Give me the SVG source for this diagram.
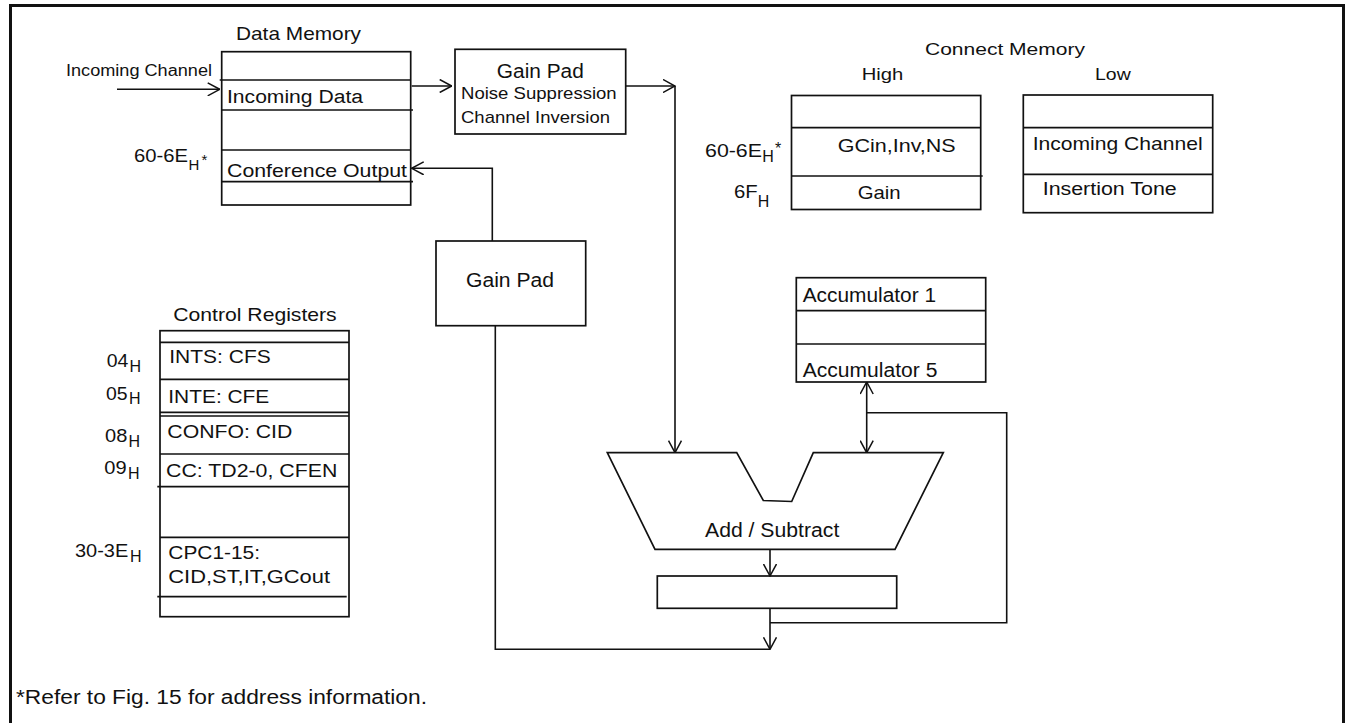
<svg xmlns="http://www.w3.org/2000/svg" width="1348" height="723" viewBox="0 0 1348 723">
<style>
  .box{fill:none;stroke:#111;stroke-width:1.7}
  .ln{fill:none;stroke:#111;stroke-width:1.7}
  .c{fill:none;stroke:#111;stroke-width:1.6}
  text{font-family:"Liberation Sans",Arial,sans-serif;fill:#111}
  .f20{font-size:20px}
  .f19{font-size:19px}
  .f18{font-size:18px}
  .f17{font-size:17px}
  .f16{font-size:16px}
  .f15{font-size:15px}
</style>
<defs>
  <marker id="ah" viewBox="0 0 13 14" refX="12.5" refY="7" markerWidth="13" markerHeight="14" markerUnits="userSpaceOnUse" orient="auto-start-reverse">
    <path d="M0.5,0.5 L12.5,7 L0.5,13.5" fill="none" stroke="#111" stroke-width="1.5"/>
  </marker>
</defs>
<rect width="1348" height="723" fill="#fff"/>
<path d="M10.5,723 V5.5 H1343.5 V723" fill="none" stroke="#111" stroke-width="3"/>

<g id="data-memory">
  <text class="f19" x="236" y="40" textLength="125" lengthAdjust="spacingAndGlyphs">Data Memory</text>
  <rect class="box" x="221.7" y="51.7" width="189" height="153.3"/>
  <line class="ln" x1="219.7" y1="80" x2="410.7" y2="80"/>
  <line class="ln" x1="221.7" y1="110" x2="413" y2="110"/>
  <line class="ln" x1="221.7" y1="150" x2="410.7" y2="150"/>
  <line class="ln" x1="221.7" y1="181.7" x2="413" y2="181.7"/>
  <text class="f18" x="227" y="102.5" textLength="136" lengthAdjust="spacingAndGlyphs">Incoming Data</text>
  <text class="f19" x="227" y="177" textLength="180" lengthAdjust="spacingAndGlyphs">Conference Output</text>
  <text class="f18" x="134" y="162" textLength="54" lengthAdjust="spacingAndGlyphs">60-6E</text>
  <text class="f15" x="188.5" y="169.5">H</text>
  <text class="f15" x="201.5" y="165">*</text>
</g>

<g id="incoming-channel-label">
  <text class="f16" x="66" y="76" textLength="146" lengthAdjust="spacingAndGlyphs">Incoming Channel</text>
</g>

<g id="gain-pad-top">
  <rect class="box" x="455" y="49.3" width="170.7" height="84.7"/>
  <text class="f20" x="540.3" y="78.3" text-anchor="middle" textLength="87" lengthAdjust="spacingAndGlyphs">Gain Pad</text>
  <text class="f17" x="461" y="99.3" textLength="155.7" lengthAdjust="spacingAndGlyphs">Noise Suppression</text>
  <text class="f17" x="461" y="122.7" textLength="149" lengthAdjust="spacingAndGlyphs">Channel Inversion</text>
</g>

<g id="connect-memory">
  <text class="f17" x="925" y="55" textLength="160" lengthAdjust="spacingAndGlyphs">Connect Memory</text>
  <text class="f17" x="861.7" y="80" textLength="41.6" lengthAdjust="spacingAndGlyphs">High</text>
  <text class="f17" x="1095" y="80" textLength="35.7" lengthAdjust="spacingAndGlyphs">Low</text>
</g>

<g id="cm-high">
  <rect class="box" x="791.5" y="95.5" width="189.2" height="114"/>
  <line class="ln" x1="791.5" y1="127.7" x2="980.7" y2="127.7"/>
  <line class="ln" x1="791.5" y1="176" x2="982.7" y2="176"/>
  <text class="f19" x="837.7" y="151.7" textLength="118" lengthAdjust="spacingAndGlyphs">GCin,Inv,NS</text>
  <text class="f19" x="857.7" y="199" textLength="43" lengthAdjust="spacingAndGlyphs">Gain</text>
  <text class="f19" x="705" y="156.7" textLength="57" lengthAdjust="spacingAndGlyphs">60-6E</text>
  <text class="f16" x="762.3" y="161.7">H</text>
  <text class="f16" x="775" y="154">*</text>
  <text class="f19" x="734" y="197.7" textLength="23.7" lengthAdjust="spacingAndGlyphs">6F</text>
  <text class="f16" x="757.7" y="206.7">H</text>
</g>

<g id="cm-low">
  <rect class="box" x="1023.3" y="95" width="189.4" height="117.7"/>
  <line class="ln" x1="1023.3" y1="127.7" x2="1212.7" y2="127.7"/>
  <line class="ln" x1="1023.3" y1="174.3" x2="1212.7" y2="174.3"/>
  <text class="f19" x="1032.7" y="149.5" textLength="170" lengthAdjust="spacingAndGlyphs">Incoming Channel</text>
  <text class="f18" x="1042.7" y="195" textLength="134" lengthAdjust="spacingAndGlyphs">Insertion Tone</text>
</g>

<g id="gain-pad-lower">
  <rect class="box" x="436" y="241" width="149.7" height="84.7"/>
  <text class="f20" x="510" y="286.7" text-anchor="middle" textLength="88" lengthAdjust="spacingAndGlyphs">Gain Pad</text>
</g>

<g id="control-registers">
  <text class="f19" x="173.3" y="320.7" textLength="163.4" lengthAdjust="spacingAndGlyphs">Control Registers</text>
  <rect class="box" x="160" y="330.7" width="189" height="286"/>
  <line class="ln" x1="160" y1="342.3" x2="349" y2="342.3"/>
  <line class="ln" x1="160" y1="379.3" x2="349" y2="379.3"/>
  <line class="ln" x1="160" y1="412.3" x2="349" y2="412.3"/>
  <line class="ln" x1="160" y1="416" x2="349" y2="416"/>
  <line class="ln" x1="160" y1="454" x2="349" y2="454"/>
  <line class="ln" x1="157.3" y1="486.7" x2="349" y2="486.7"/>
  <line class="ln" x1="160" y1="537.3" x2="349" y2="537.3"/>
  <line class="ln" x1="157.3" y1="596.7" x2="346.7" y2="596.7"/>
  <text class="f19" x="169.3" y="363.3" textLength="101.4" lengthAdjust="spacingAndGlyphs">INTS: CFS</text>
  <text class="f19" x="168.3" y="403.3" textLength="101" lengthAdjust="spacingAndGlyphs">INTE: CFE</text>
  <text class="f19" x="167.3" y="437.7" textLength="125" lengthAdjust="spacingAndGlyphs">CONFO: CID</text>
  <text class="f19" x="166" y="476.7" textLength="171.3" lengthAdjust="spacingAndGlyphs">CC: TD2-0, CFEN</text>
  <text class="f19" x="168.3" y="559.3" textLength="91.7" lengthAdjust="spacingAndGlyphs">CPC1-15:</text>
  <text class="f19" x="168.3" y="583.3" textLength="161.7" lengthAdjust="spacingAndGlyphs">CID,ST,IT,GCout</text>
  <text class="f19" x="106.7" y="367.3" textLength="21.6" lengthAdjust="spacingAndGlyphs">04</text>
  <text class="f16" x="129.5" y="372.3">H</text>
  <text class="f19" x="106" y="400" textLength="21.6" lengthAdjust="spacingAndGlyphs">05</text>
  <text class="f16" x="129" y="404.3">H</text>
  <text class="f19" x="105" y="441.7" textLength="22.3" lengthAdjust="spacingAndGlyphs">08</text>
  <text class="f16" x="128.5" y="446.7">H</text>
  <text class="f19" x="104.3" y="474" textLength="22.3" lengthAdjust="spacingAndGlyphs">09</text>
  <text class="f16" x="128" y="479">H</text>
  <text class="f19" x="75" y="556.7" textLength="53.3" lengthAdjust="spacingAndGlyphs">30-3E</text>
  <text class="f16" x="130" y="561.7">H</text>
</g>

<g id="accumulators">
  <rect class="box" x="796.3" y="277.7" width="189.4" height="104.3"/>
  <line class="ln" x1="796.3" y1="310.7" x2="985.7" y2="310.7"/>
  <line class="ln" x1="796.3" y1="344" x2="985.7" y2="344"/>
  <text class="f20" x="802.7" y="302.3" textLength="133.3" lengthAdjust="spacingAndGlyphs">Accumulator 1</text>
  <text class="f20" x="802.7" y="376.7" textLength="134.7" lengthAdjust="spacingAndGlyphs">Accumulator 5</text>
</g>

<g id="add-subtract">
  <path class="box" d="M607.3,452.7 H736.7 L763.3,500.5 L791.7,501.5 L813.3,452.7 H943.3 L895,549.3 H655 Z"/>
  <text class="f20" x="705" y="536.7" textLength="134.3" lengthAdjust="spacingAndGlyphs">Add / Subtract</text>
</g>

<g id="output-register">
  <rect class="box" x="657.3" y="576" width="239.4" height="32.3"/>
</g>

<g id="connectors">
  <line class="c" x1="117" y1="89.3" x2="219.7" y2="89.3" marker-end="url(#ah)"/>
  <line class="c" x1="411.7" y1="86" x2="451.7" y2="86" marker-end="url(#ah)"/>
  <line class="c" x1="625.7" y1="86" x2="675" y2="86" marker-end="url(#ah)"/>
  <line class="c" x1="675" y1="86" x2="675" y2="452.7" marker-end="url(#ah)"/>
  <path class="c" d="M492.3,241 V168.3 H411.7" marker-end="url(#ah)"/>
  <path class="c" d="M495.3,325.7 V649.3 H770"/>
  <line class="c" x1="866.7" y1="382" x2="866.7" y2="452.7" marker-start="url(#ah)" marker-end="url(#ah)"/>
  <path class="c" d="M866.7,412.7 H1006.7 V622.7 H770"/>
  <line class="c" x1="770" y1="550" x2="770" y2="576" marker-end="url(#ah)"/>
  <line class="c" x1="770" y1="608.3" x2="770" y2="649.3" marker-end="url(#ah)"/>
</g>

<text class="f20" x="16" y="704" textLength="411" lengthAdjust="spacingAndGlyphs">*Refer to Fig. 15 for address information.</text>
</svg>
